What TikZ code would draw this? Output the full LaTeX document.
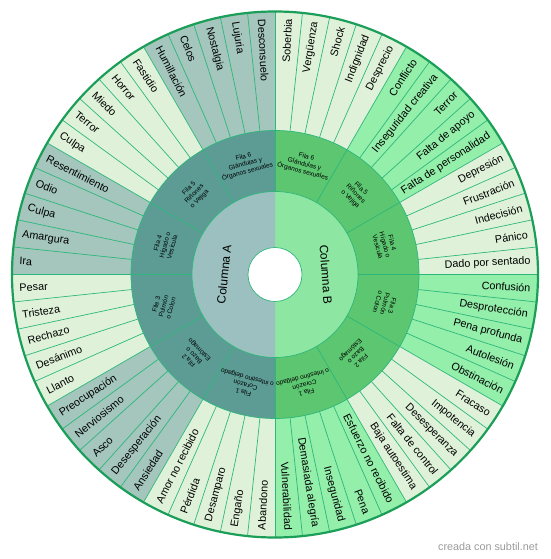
\documentclass[tikz,border=0pt]{standalone}
\usepackage{fontspec}
\setmainfont{Liberation Sans}
\definecolor{lightseg}{HTML}{DFF2D9}
\definecolor{tealseg}{HTML}{A4C6BD}
\definecolor{greenseg}{HTML}{93EFAA}
\definecolor{filaA}{HTML}{5C9C95}
\definecolor{filaB}{HTML}{5CC670}
\definecolor{colA}{HTML}{9CC0BF}
\definecolor{colB}{HTML}{8DE6A2}
\definecolor{sepline}{HTML}{2DB77B}
\definecolor{rimline}{HTML}{1A9E58}
\definecolor{wmgray}{HTML}{9A9A9A}
\tikzset{
  sepl/.style={draw=sepline, line width=0.7pt},
  olab/.style={font=\fontsize{10.8}{12}\selectfont, inner sep=0pt, text=black},
  flab/.style={font=\fontsize{6.5}{7.5}\selectfont, inner sep=0pt, align=center, text=black},
  clab/.style={font=\fontsize{12}{14}\selectfont, inner sep=0pt, text=black},
  wmark/.style={font=\fontsize{10.8}{12}\selectfont, inner sep=0pt, text=wmgray},
}
\newcommand{\wedgefill}[4]{\fill[#1] (0,0) -- (#2:#4) arc[start angle=#2, end angle=#3, radius=#4] -- cycle;}
\begin{document}
\begin{tikzpicture}[x=1pt,y=1pt]
\useasboundingbox (-275,-284.5) rectangle (275,274.5);
% outer ring groups
\wedgefill{lightseg}{60}{90}{263}
\wedgefill{greenseg}{30}{60}{263}
\wedgefill{lightseg}{0}{30}{263}
\wedgefill{greenseg}{-30}{0}{263}
\wedgefill{lightseg}{-60}{-30}{263}
\wedgefill{greenseg}{-90}{-60}{263}
\wedgefill{tealseg}{90}{120}{263}
\wedgefill{lightseg}{120}{150}{263}
\wedgefill{tealseg}{150}{180}{263}
\wedgefill{lightseg}{180}{210}{263}
\wedgefill{tealseg}{210}{240}{263}
\wedgefill{lightseg}{240}{270}{263}
% fila ring
\wedgefill{filaB}{-90}{90}{144}
\wedgefill{filaA}{90}{270}{144}
% column ring
\wedgefill{colB}{-90}{90}{83}
\wedgefill{colA}{90}{270}{83}
% separators
\foreach \i in {0,...,59} \draw[sepl] (\i*6:144) -- (\i*6:263);
\foreach \i in {0,...,11} \draw[sepl] (\i*30:83) -- (\i*30:144);
\draw[sepl] (0,0) circle[radius=144];
\draw[sepl] (0,0) circle[radius=83];
\draw[sepl, fill=white] (0,0) circle[radius=27];
\draw[draw=rimline, line width=2.2pt] (0,0) circle[radius=263];
% outer labels right
\foreach \lab [count=\k from 0] in {Soberbia,Vergüenza,Shock,Indignidad,Desprecio,Conflicto,Inseguridad creativa,Terror,Falta de apoyo,Falta de personalidad,Depresión,Frustración,Indecisión,Pánico,Dado por sentado,Confusión,Desprotección,Pena profunda,Autolesión,Obstinación,Fracaso,Impotencia,Desesperanza,Falta de control,Baja autoestima,Esfuerzo no recibido,Pena,Inseguridad,Demasiada alegría,Vulnerabilidad} {
  \pgfmathsetmacro\ang{87-6*\k}
  \node[olab, anchor=east, rotate=\ang] (r\k) at (\ang:256) {\lab};
}
% outer labels left
\foreach \lab [count=\k from 0] in {Abandono,Engaño,Desamparo,Pérdida,Amor no recibido,Ansiedad,Desesperación,Asco,Nerviosismo,Preocupación,Llanto,Desánimo,Rechazo,Tristeza,Pesar,Ira,Amargura,Culpa,Odio,Resentimiento,Culpa,Terror,Miedo,Horror,Fastidio,Humillación,Celos,Nostalgia,Lujuria,Desconsuelo} {
  \pgfmathsetmacro\ang{267-6*\k}
  \pgfmathsetmacro\rot{\ang-180}
  \node[olab, anchor=west, rotate=\rot] (l\k) at (\ang:256) {\lab};
}
% fila labels
\node[flab, rotate=-15] (fB6) at (75:114) {Fila 6\\Glándulas y\\Órganos sexuales};
\node[flab, rotate=-45] (fB5) at (45:114) {Fila 5\\Riñones\\o Vejiga};
\node[flab, rotate=-75] (fB4) at (15:114) {Fila 4\\Hígado o\\Vesícula};
\node[flab, rotate=-105] (fB3) at (-15:114) {Fila 3\\Pulmón\\o Colon};
\node[flab, rotate=-135] (fB2) at (-45:114) {Fila 2\\Bazo o\\Estómago};
\node[flab, rotate=-165] (fB1) at (-75:114) {Fila 1\\Corazón\\o intestino delgado};
\node[flab, rotate=15] (fA6) at (105:114) {Fila 6\\Glándulas y\\Órganos sexuales};
\node[flab, rotate=45] (fA5) at (135:114) {Fila 5\\Riñones\\o Vejiga};
\node[flab, rotate=75] (fA4) at (165:114) {Fila 4\\Hígado o\\Vesícula};
\node[flab, rotate=75] (fA3) at (196:116) {Fila 3\\Pulmón\\o Colon};
\node[flab, rotate=135] (fA2) at (225:114) {Fila 2\\Bazo o\\Estómago};
\node[flab, rotate=165] (fA1) at (255:114) {Fila 1\\Corazón\\o intestino delgado};
% column labels
\node[clab, rotate=84] (colA) at (180:51) {Columna A};
\node[clab, rotate=-86] (colB) at (0:51) {Columna B};
% watermark
\node[wmark] (wm) at (213,-272.5) {creada con subtil.net};
\end{tikzpicture}
\end{document}
